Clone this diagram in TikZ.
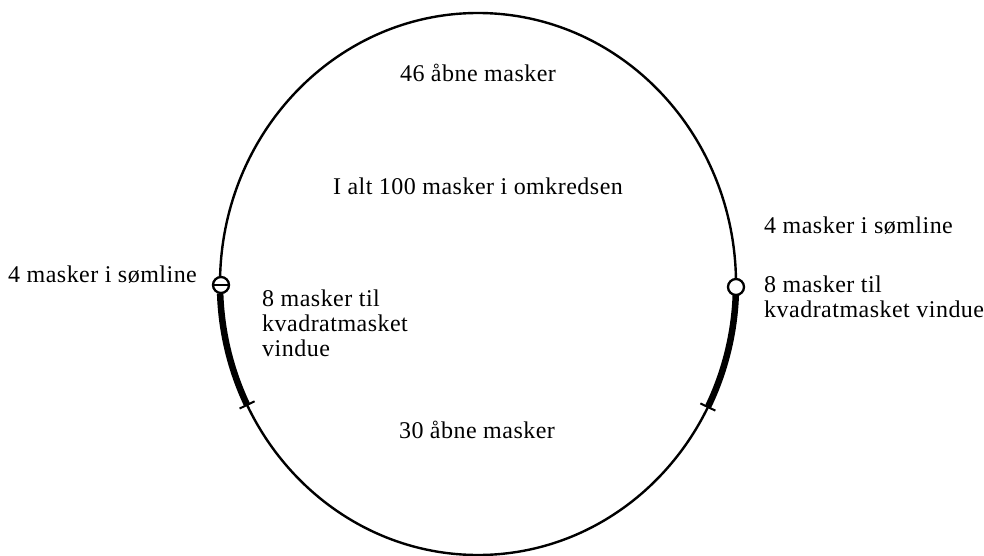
\documentclass[tikz,border=0pt]{standalone}
\usepackage{fontspec}
\setmainfont[LetterSpace=2]{Liberation Serif}
\usetikzlibrary{calc}
\tikzset{
  outline/.style={line width=2.4pt},
  window/.style={line width=6.5pt},
  tickmark/.style={line width=2pt},
  seam/.style={circle, draw, line width=2.3pt, fill=white, minimum size=16pt, inner sep=0pt},
  label/.style={font=\fontsize{24}{25}\selectfont, inner sep=0pt, align=left},
}
\begin{document}
\begin{tikzpicture}[x=1pt,y=-1pt]
\useasboundingbox (0,0) rectangle (984,556);
% the net circumference
\coordinate (c) at (478,284);
\draw[outline] (c) ellipse [x radius=258, y radius=271];
% window meshes along the left and right seams
\draw[window] ($(c)+(178:258 and 271)$) arc[start angle=178, end angle=153.5, x radius=258, y radius=271];
\draw[window] ($(c)+(2:258 and 271)$) arc[start angle=2, end angle=27, x radius=258, y radius=271];
% end ticks of the window sections
\coordinate (lt) at ($(c)+(153.5:258 and 271)$);
\coordinate (rt) at ($(c)+(27:258 and 271)$);
\draw[tickmark] ($(lt)+(-7.5,3.6)$) -- ($(lt)+(7.5,-3.6)$);
\draw[tickmark] ($(rt)+(-7.5,-3.6)$) -- ($(rt)+(7.5,3.6)$);
% seam markers
\node[seam] (sl) at (221,285) {};
\draw[line width=1.8pt] (sl.west) -- (sl.east);
\node[seam] (sr) at (736,287) {};
% labels
\node[label] (top) at (478,73) {46 åbne masker};
\node[label] (tot) at (478,186) {I alt 100 masker i omkredsen};
\node[label, anchor=west] (lseam) at (8,275) {4 masker i sømline};
\node[label, anchor=west] (lwin) at (262,323) {8 masker til\\kvadratmasket\\vindue};
\node[label] (bot) at (477,430) {30 åbne masker};
\node[label, anchor=west] (rseam) at (764,226) {4 masker i sømline};
\node[label, anchor=west] (rwin) at (764,297) {8 masker til\\kvadratmasket vindue};
\end{tikzpicture}
\end{document}
